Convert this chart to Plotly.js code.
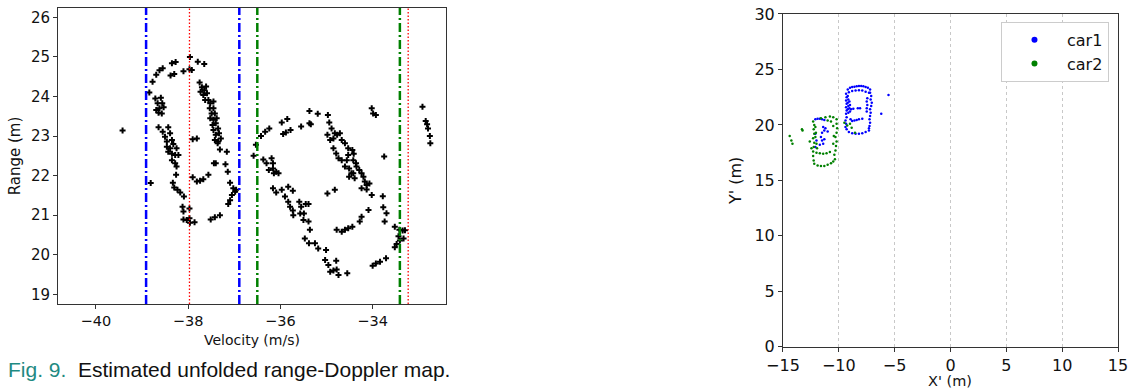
<!DOCTYPE html>
<html>
<head>
<meta charset="utf-8">
<script src="https://cdn.plot.ly/plotly-3.0.1.min.js"></script>
<style>html,body{margin:0;padding:0;background:#fff;}#chart{width:1130px;height:391px;}</style>
</head>
<body>
<div id="chart"></div>
<script>
// ---- Left panel: estimated unfolded range-Doppler map ----
const velocity = [
-38.84,-38.77,-38.69,-38.62,-38.55,-38.35,-38.27,-38.38,-38.30,-38.10,-37.96,-37.97,-37.92,-37.79,-37.65,
-38.71,-38.59,-38.66,-38.56,-38.62,-38.53,-38.69,-38.57,-38.64,
-38.64,-38.55,-38.43,-38.50,-38.39,-38.46,-38.35,-38.46,-38.39,-38.32,-38.25,-38.43,-38.35,-38.28,-38.21,-38.35,-38.28,-38.25,-38.26,-38.81,-38.33,-38.30,-38.23,-38.17,-38.09,-38.12,-38.10,-37.97,-38.10,-38.03,-37.97,-37.96,-37.86,
-37.75,-37.70,-37.65,-37.73,-37.61,-37.67,-37.59,-37.56,-37.63,-37.52,-37.45,-37.53,-37.45,-37.49,-37.42,-37.52,-37.45,-37.38,-37.47,-37.40,-37.35,-37.45,-37.40,-37.33,-37.42,-37.35,-37.29,-37.36,-37.31,-37.16,-37.19,-37.14,-37.09,
-37.90,-37.81,-37.90,-37.81,-37.74,-37.67,-37.56,-37.44,-37.40,-37.02,-36.98,-36.96,-37.05,-37.09,-37.13,-37.51,-37.42,-37.31,
-36.53,-36.58,-36.42,-36.33,-36.24,-35.97,-35.85,-35.94,-35.88,-35.78,-35.55,-35.37,-35.37,-35.34,-35.19,-34.97,
-34.94,-34.89,-34.82,-34.98,-34.92,-34.85,-34.77,-34.71,-34.67,-34.60,-34.85,-34.79,-34.74,-34.53,-34.44,-34.41,-34.53,-34.56,-34.67,-34.60,-34.51,-34.42,-34.36,-34.35,-34.29,-34.24,-34.20,-34.42,-34.39,-34.17,-34.13,-34.07,-34.24,-34.13,-34.02,-34.51,-34.46,
-34.02,-33.99,-33.93,-33.75,
-36.37,-36.30,-36.19,-36.16,-36.25,-36.16,-36.09,-36.04,-36.14,-36.16,-36.09,-35.97,-35.83,-35.73,-35.90,-35.83,-35.79,-35.73,-35.72,-35.59,-35.55,-35.57,-35.49,-35.45,-35.39,-35.50,-35.39,-35.36,-35.47,-35.38,-35.25,-35.18,-35.01,-35.03,-34.96,-34.79,-34.92,-34.85,-34.78,-34.74,-34.55,
-34.98,-34.82,-34.78,-34.67,-34.60,-34.53,-34.44,-34.28,-34.24,-34.09,
-34.00,-33.93,-33.84,-33.71,
-33.78,-33.77,-33.70,-33.74,-33.52,-33.42,-33.35,-33.30,-33.44,-33.33,-33.48,-33.52,-33.41,
-32.92,-32.85,-32.82,-32.80,-32.76,-32.75,
-39.42
];
const range = [
24.10,24.37,24.55,24.66,24.71,24.84,24.87,24.53,24.57,24.64,25.00,24.69,24.67,24.88,24.82,
23.95,23.97,23.83,23.83,23.70,23.73,23.66,23.57,23.59,
23.22,23.11,23.22,22.98,23.07,22.86,22.90,22.73,22.69,22.80,22.69,22.60,22.55,22.52,22.52,22.39,22.31,22.23,22.02,21.81,21.82,21.70,21.64,21.57,21.47,21.21,21.09,21.17,20.89,20.88,20.92,20.81,20.82,
24.35,24.23,24.16,24.12,24.25,24.04,24.08,23.91,23.91,23.83,23.87,23.70,23.70,23.57,23.57,23.45,23.41,23.45,23.28,23.32,23.19,23.15,23.03,23.07,22.90,22.86,22.94,22.82,22.66,22.60,22.29,22.10,21.82,
22.92,22.94,21.96,21.85,21.87,21.91,22.02,22.31,22.31,21.68,21.59,21.64,21.51,21.38,21.28,20.89,20.95,21.00,
22.78,22.50,23.00,23.11,23.19,23.34,23.43,23.05,23.09,23.15,23.24,23.63,23.32,23.30,23.56,23.53,
23.34,23.19,23.07,23.03,22.90,22.94,23.03,23.07,22.90,22.82,22.69,22.56,22.44,22.69,22.65,22.55,22.52,22.39,22.39,22.23,22.18,22.39,22.31,22.23,22.14,22.06,21.97,22.06,21.93,21.85,21.76,21.80,21.68,21.65,21.51,21.97,22.06,
23.70,23.57,23.53,22.48,
22.41,22.31,22.44,22.31,22.14,22.18,22.10,22.06,22.06,21.68,21.57,21.64,21.72,21.62,21.47,21.34,21.21,21.12,21.00,21.34,21.21,21.04,21.04,21.28,21.28,20.88,20.84,20.63,20.41,20.29,20.29,20.16,20.12,19.87,19.74,19.85,19.57,19.60,19.63,19.49,19.53,
21.55,21.64,20.63,20.58,20.63,20.67,20.71,20.84,20.96,21.13,
19.72,19.78,19.82,19.91,
21.48,21.20,21.05,20.84,20.71,20.63,20.61,20.62,20.47,20.41,20.27,20.19,20.36,
23.74,23.38,23.30,23.19,23.00,22.82,
23.14
];
const blueLines = [-38.91, -36.89];
const greenLines = [-36.50, -33.41];
const redLines = [-37.97, -33.23];

// ---- Right panel: X'-Y' positions ----
const car1X = [
-9.2,-9.0,-8.8,-8.6,-8.4,-8.2,-8.0,-7.8,-7.6,-7.4,-7.2,
-9.1,-8.8,-8.5,-8.2,-7.9,-7.6,-7.3,
-9.35,-9.3,-9.35,-9.3,-9.35,-9.3,-9.35,-9.3,-9.2,-9.15,-9.2,-9.15,-9.2,-9.15,-9.05,-9.0,-9.05,-9.0,-9.4,-9.35,-9.4,-9.3,
-9.1,-8.8,-8.5,-8.2,-7.9,-7.6,-7.3,
-7.2,-7.1,-7.15,-7.05,-7.1,-7.2,-7.15,-7.2,-7.25,-7.2,-7.25,-7.3,-7.45,-7.5,-7.45,-7.5,-7.5,
-8.9,-8.7,-8.3,-8.1,-8.8,-8.6,-8.4,-8.2,-7.9,-8.95,
-5.55,-6.2,
-12.1,-11.9,-11.7,-11.5,-11.3,
-11.4,-11.3,-11.5,-11.2,-11.0,-11.6,-11.5,-11.4,-11.3,-11.7,-12.1,-12.0,-12.1
];
const car1Y = [
23.2,23.35,23.42,23.45,23.48,23.5,23.5,23.48,23.42,23.35,23.2,
22.95,23.05,23.1,23.12,23.1,23.0,22.9,
22.8,22.5,22.2,21.9,21.6,21.3,21.0,20.7,22.6,22.3,22.0,21.7,21.4,21.1,22.1,21.8,21.5,21.2,20.4,20.1,19.8,19.6,
19.35,19.25,19.2,19.2,19.25,19.35,19.5,
22.9,22.6,22.3,22.0,21.7,21.4,21.1,20.8,20.5,20.2,19.9,19.7,22.4,22.1,21.8,21.5,21.2,
21.4,21.45,21.5,21.5,20.35,20.4,20.45,20.5,20.55,20.5,
22.7,21.0,
20.5,20.55,20.55,20.5,20.45,
19.8,19.5,19.3,19.7,19.4,18.9,18.6,18.3,18.7,18.2,18.0,18.6,19.2
];
const car2X = [
-12.3,-11.6,-11.2,-10.8,-10.5,-10.2,-11.0,-10.7,
-12.2,-12.25,-12.2,-12.3,-12.2,-12.25,-12.3,-12.3,-12.25,-12.1,-12.05,-12.1,-12.0,-11.95,
-12.2,-11.9,-11.6,-11.3,-11.0,-10.7,
-12.0,-11.7,-11.4,-11.1,-10.8,
-10.2,-10.15,-10.2,-10.3,-10.2,-10.25,-10.3,-10.4,-10.35,-10.5,-10.5,-10.45,-10.5,
-14.4,-14.25,-14.15,-13.3,-13.25,-12.6,-12.45,
-9.25,-9.0,-8.85,-8.55,-9.5
];
const car2Y = [
20.3,20.6,20.7,20.75,20.7,20.5,20.4,20.3,
20.0,19.6,19.2,18.8,18.4,18.0,17.6,17.2,16.8,19.8,19.3,18.9,18.3,17.9,
16.5,16.35,16.3,16.3,16.4,16.55,
17.5,17.45,17.4,17.45,17.55,
20.1,19.7,19.3,18.9,18.5,18.1,17.7,17.3,16.9,16.7,19.9,19.0,18.3,
19.0,18.6,18.3,19.6,19.5,18.5,17.9,
19.95,20.1,19.75,19.3,20.2
];
const seriesNames = ['car1', 'car2'];
const seriesColors = ['#0000ff', '#008000'];

const FONT = 'DejaVu Sans, sans-serif';

const traces = [
  {x: velocity, y: range, type: 'scatter', mode: 'markers', xaxis: 'x', yaxis: 'y',
   marker: {symbol: 'cross', size: 5, color: '#000'}, showlegend: false, hoverinfo: 'x+y'},
  {x: car1X, y: car1Y, type: 'scatter', mode: 'markers', xaxis: 'x2', yaxis: 'y2', name: seriesNames[0],
   marker: {size: 2.5, color: seriesColors[0]}, showlegend: false},
  {x: car2X, y: car2Y, type: 'scatter', mode: 'markers', xaxis: 'x2', yaxis: 'y2', name: seriesNames[1],
   marker: {size: 2.5, color: seriesColors[1]}, showlegend: false},
  // legend entries (no data, only legend symbols at a readable size)
  {x: [null], y: [null], type: 'scatter', mode: 'markers', xaxis: 'x2', yaxis: 'y2', name: seriesNames[0],
   marker: {size: 6, color: seriesColors[0]}, showlegend: true},
  {x: [null], y: [null], type: 'scatter', mode: 'markers', xaxis: 'x2', yaxis: 'y2', name: seriesNames[1],
   marker: {size: 6, color: seriesColors[1]}, showlegend: true}
];

const shapes = [];
blueLines.forEach(v => shapes.push({type: 'line', xref: 'x', yref: 'y domain', x0: v, x1: v, y0: 0, y1: 1,
  line: {color: '#0000ff', width: 2.5, dash: '9px,3px,2px,3px'}}));
greenLines.forEach(v => shapes.push({type: 'line', xref: 'x', yref: 'y domain', x0: v, x1: v, y0: 0, y1: 1,
  line: {color: '#008000', width: 2.5, dash: '9px,3px,2px,3px'}}));
redLines.forEach(v => shapes.push({type: 'line', xref: 'x', yref: 'y domain', x0: v, x1: v, y0: 0, y1: 1,
  line: {color: '#ff0000', width: 1.3, dash: '1.5px,2px'}}));

const axBase = {showline: true, mirror: true, linecolor: '#333', linewidth: 1, ticks: 'outside', ticklen: 4,
  tickcolor: '#333', zeroline: false, showgrid: false};

const layout = {
  width: 1130, height: 391,
  margin: {l: 0, r: 0, t: 0, b: 0},
  paper_bgcolor: '#fff', plot_bgcolor: '#fff',
  font: {family: FONT, color: '#111'},
  showlegend: true,
  legend: {x: 0.9814, xanchor: 'right', y: 0.944, yanchor: 'top', bgcolor: '#fff', bordercolor: '#ccc', borderwidth: 1,
    font: {family: FONT, size: 16}, itemsizing: 'trace', itemwidth: 55, tracegroupgap: 0},
  xaxis: Object.assign({}, axBase, {domain: [0.0513, 0.3947], range: [-40.82, -32.41], dtick: 2, tick0: -40,
    tickfont: {size: 14.5}, anchor: 'y', title: {text: 'Velocity (m/s)', font: {size: 14}, standoff: 6}}),
  yaxis: Object.assign({}, axBase, {domain: [0.2225, 0.9795], range: [18.755, 26.235], dtick: 1,
    tickfont: {size: 15}, anchor: 'x', title: {text: 'Range (m)', font: {size: 15}, standoff: 6}}),
  xaxis2: Object.assign({}, axBase, {domain: [0.6929, 0.9894], range: [-15, 15], dtick: 5, tick0: -15,
    tickfont: {size: 16}, anchor: 'y2', showgrid: true, gridcolor: '#c8c8c8', griddash: 'dot', gridwidth: 1}),
  yaxis2: Object.assign({}, axBase, {domain: [0.1133, 0.9642], range: [0, 30], dtick: 5,
    tickfont: {size: 16}, anchor: 'x2', title: {text: "Y' (m)", font: {size: 16}, standoff: 8}}),
  shapes: shapes,
  annotations: [
    {xref: 'paper', yref: 'paper', x: 0.005, y: 0.054, xanchor: 'left', yanchor: 'middle', showarrow: false,
     text: '<span style="color:#1f8a82">Fig. 9.</span>&nbsp;&nbsp;Estimated unfolded range-Doppler map.',
     font: {family: 'Liberation Sans, Arial, sans-serif', size: 21, color: '#111'}},
    // x-axis title of the right panel (at the very bottom edge, as in the reference)
    {xref: 'x2 domain', yref: 'paper', x: 0.5, y: 0.0256, xanchor: 'center', yanchor: 'middle', showarrow: false,
     borderpad: 0, text: "X' (m)", font: {family: FONT, size: 14.5, color: '#111'}}
  ]
};

Plotly.newPlot('chart', traces, layout, {displayModeBar: false, staticPlot: true});
</script>
</body>
</html>
